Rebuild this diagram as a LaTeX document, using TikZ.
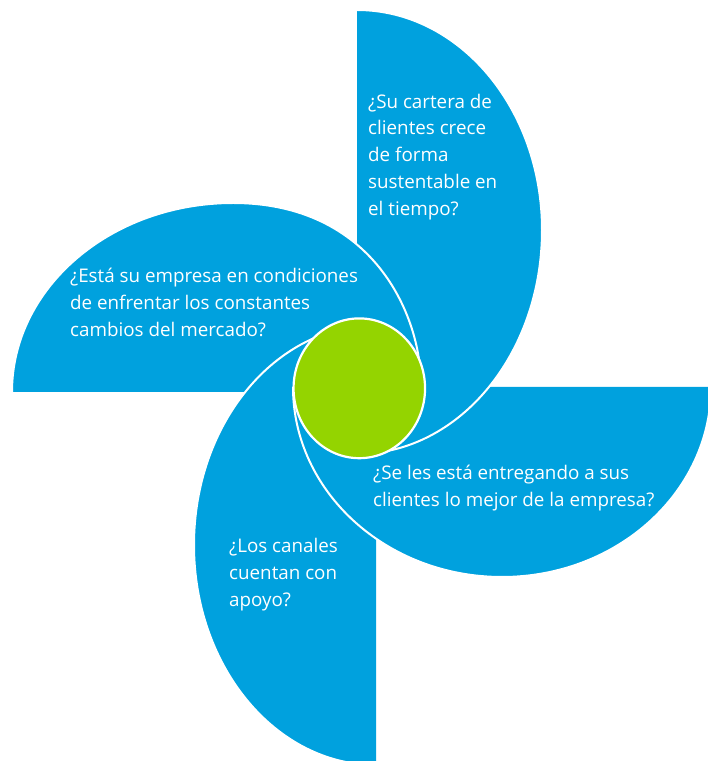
\documentclass[tikz,border=0pt]{standalone}
\usepackage{fontspec}
\setmainfont{Open Sans}
\usetikzlibrary{shapes.geometric}
\definecolor{bladeblue}{RGB}{0,161,222}
\definecolor{hubgreen}{RGB}{148,212,0}
\tikzset{
  blade/.style={fill=bladeblue, draw=none},
  bladeedge/.style={draw=white, line width=2pt},
  hub/.style={fill=hubgreen, draw=white, line width=2.2pt},
  qtext/.style={text=white, align=left, anchor=base west, inner sep=0pt,
    font=\fontsize{18.8}{26.7}\selectfont}
}
\begin{document}
\begin{tikzpicture}[x=1pt,y=1pt]
\useasboundingbox (0,0) rectangle (708,761);
\clip (0,0) rectangle (708,761);
% blades (fills)
\fill[blade] (357,751) arc[start angle=90,end angle=0,x radius=185,y radius=220]
   arc[start angle=0,end angle=-90,x radius=185,y radius=224] -- cycle;
\fill[blade] (12,369) arc[start angle=180,end angle=90,x radius=221,y radius=189]
   .. controls (373,558) and (421,446) .. (421,376) -- (421,369) -- cycle;
\fill[blade] (711,374) arc[start angle=0,end angle=-180,x radius=209,y radius=190] -- cycle;
\fill[blade] (376,436) arc[start angle=90,end angle=270,x radius=182,y radius=220] -- cycle;
% white outer edges
\draw[bladeedge] (357,751) arc[start angle=90,end angle=0,x radius=185,y radius=220]
   arc[start angle=0,end angle=-90,x radius=185,y radius=224];
\draw[bladeedge] (12,369) arc[start angle=180,end angle=90,x radius=221,y radius=189]
   .. controls (373,558) and (421,446) .. (421,376);
\draw[bladeedge] (711,374) arc[start angle=0,end angle=-180,x radius=209,y radius=190];
\draw[bladeedge] (376,436) arc[start angle=90,end angle=270,x radius=182,y radius=220];
% hub
\node[hub, ellipse, minimum width=131.5pt, minimum height=139.8pt, inner sep=0pt] (hub) at (359.3,372.7) {};
% texts
\node[qtext] (qtop) at (368,545.9) {¿Su cartera de\\clientes crece\\de forma\\sustentable en\\el tiempo?};
\node[qtext] (qleft) at (70,424.6) {¿Está su empresa en condiciones\\de enfrentar los constantes\\cambios del mercado?};
\node[qtext] (qright) at (373,254.3) {¿Se les está entregando a sus\\clientes lo mejor de la empresa?};
\node[qtext] (qbottom) at (229,154.9) {¿Los canales\\cuentan con\\apoyo?};
\end{tikzpicture}
\end{document}
